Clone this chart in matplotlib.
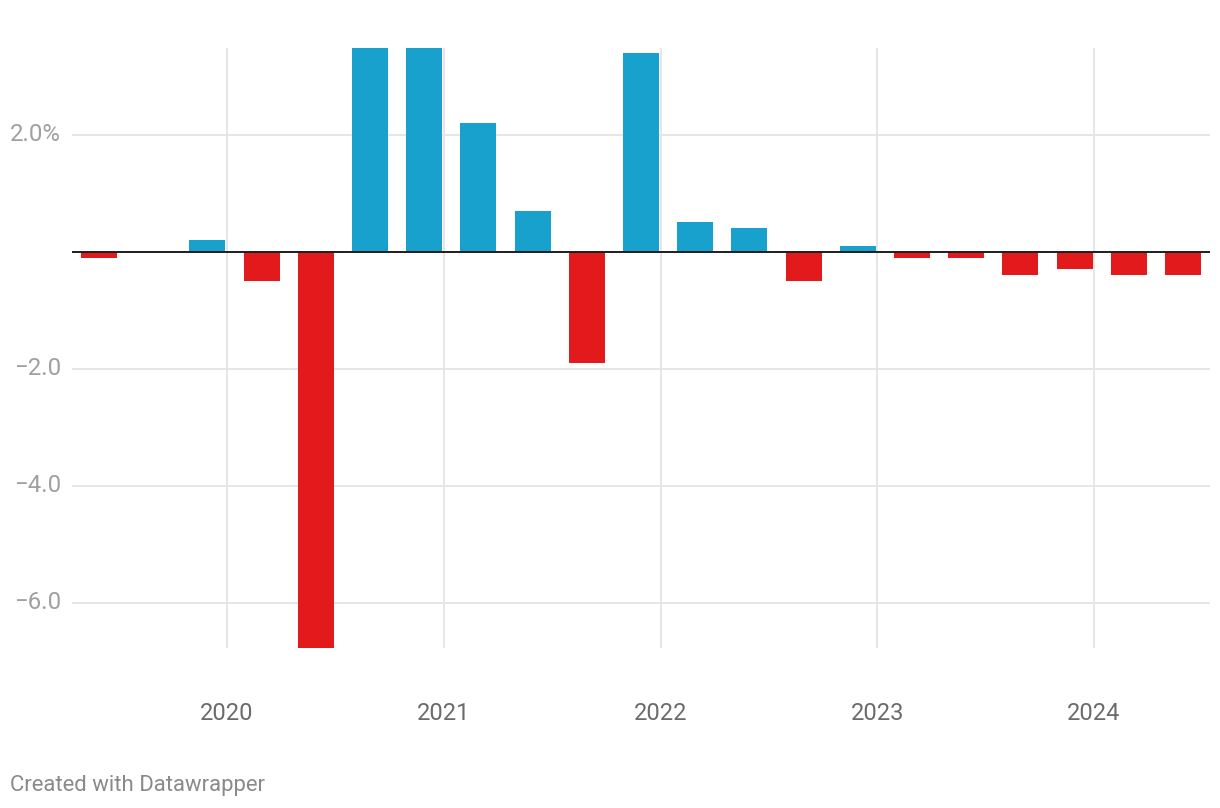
import matplotlib.pyplot as plt
import numpy as np

plt.rcParams['font.family'] = ['Roboto', 'DejaVu Sans']

# quarterly change, % (Q2 2019 .. Q2 2024)
quarters = ["2019 Q2", "2019 Q3", "2019 Q4",
            "2020 Q1", "2020 Q2", "2020 Q3", "2020 Q4",
            "2021 Q1", "2021 Q2", "2021 Q3", "2021 Q4",
            "2022 Q1", "2022 Q2", "2022 Q3", "2022 Q4",
            "2023 Q1", "2023 Q2", "2023 Q3", "2023 Q4",
            "2024 Q1", "2024 Q2"]
values = [-0.1, 0.0, 0.2,
          -0.5, -6.8, 3.5, 3.5,
          2.2, 0.7, -1.9, 3.4,
          0.5, 0.4, -0.5, 0.1,
          -0.1, -0.1, -0.4, -0.3,
          -0.4, -0.4]
years = ["2020", "2021", "2022", "2023", "2024"]
y_ticks = [2.0, -2.0, -4.0, -6.0]
y_labels = ["2.0%", "\u22122.0", "\u22124.0", "\u22126.0"]

BLUE = "#18a1cd"
RED = "#e31a1c"
GRID = "#e6e6e6"

W, H = 1220, 808
fig = plt.figure(figsize=(W / 100, H / 100), dpi=100)
ax = fig.add_axes([72 / W, 1 - 648 / H, (1210 - 72) / W, 600 / H])

x = np.arange(len(quarters))
vals = np.array(values)
colors = [BLUE if v >= 0 else RED for v in vals]
ax.bar(x, vals, width=0.665, color=colors, zorder=2)

ax.set_xlim(-0.5, len(quarters) - 0.5)
ax.set_ylim(-6.77, 3.48)

# year gridlines sit at the boundary between Q4 and Q1
year_pos = [quarters.index(f"{y} Q1") - 0.64 for y in years]
for xp in year_pos:
    ax.axvline(xp, color=GRID, lw=1.4, zorder=1)
for yt in y_ticks:
    ax.axhline(yt, color=GRID, lw=1.4, zorder=1)
ax.axhline(0, color="#1d1d1d", lw=1.4, zorder=3)

for s in ax.spines.values():
    s.set_visible(False)
ax.set_xticks([])
ax.set_yticks([])

for yt, lab in zip(y_ticks, y_labels):
    ax.text(-0.7, yt, lab, ha="right", va="center",
            fontsize=17.3, color="#a0a0a0", clip_on=False)

trans = ax.get_xaxis_transform()
for xp, lab in zip(year_pos, years):
    ax.text(xp, -65 / 600, lab, ha="center", va="center", fontsize=17,
            color="#6b6b6b", transform=trans)

fig.text(10 / W, 1 - 786 / H, "Created with Datawrapper", ha="left", va="center",
         fontsize=15.9, color="#8a8a8a")

fig.savefig("out.png", dpi=100, facecolor="white")
